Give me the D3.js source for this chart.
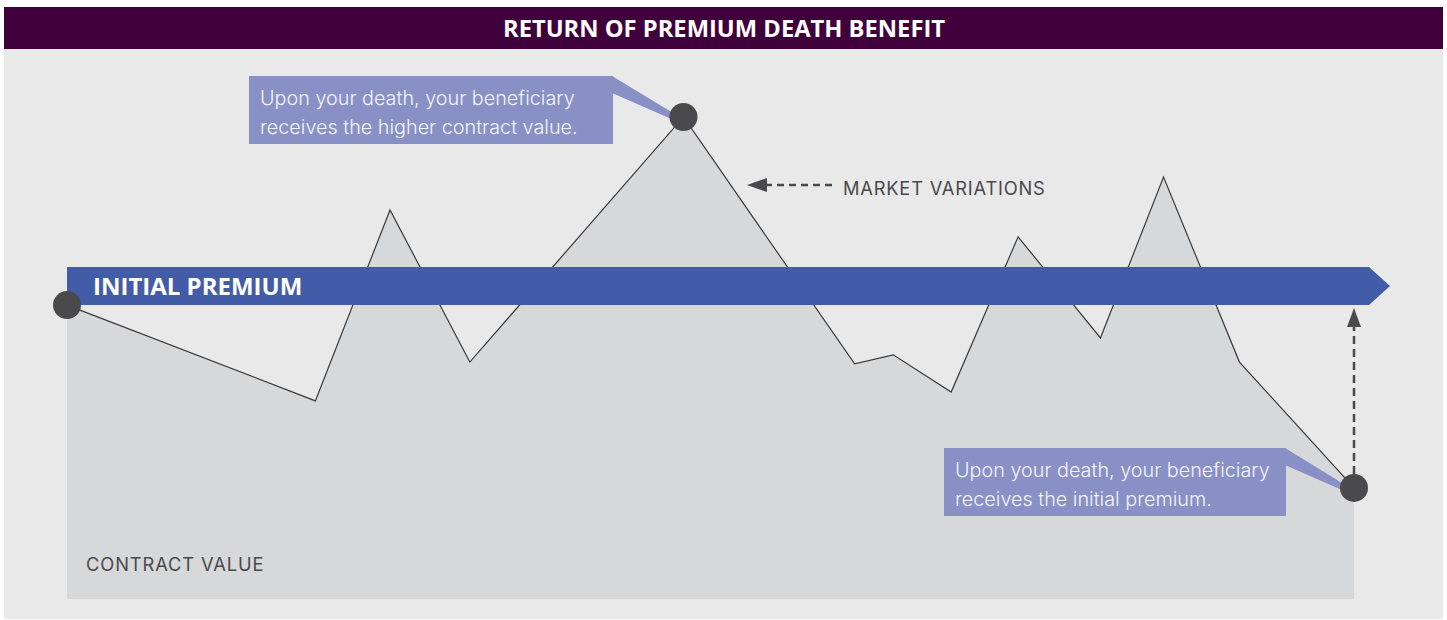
<!DOCTYPE html>
<html>
<head>
<meta charset="utf-8">
<script src="https://cdn.jsdelivr.net/npm/d3@7"></script>
<style>
    body { margin: 0; background: #fff; }
    svg { display: block; }
</style>
</head>
<body>
<svg id="chart"></svg>
<script>
const width = 1447;
const height = 620;

// contract value over time (time 0..100, value where initial premium = 100)
const periods = [0, 19.3, 25.1, 31.3, 47.9, 61.2, 64.2, 68.7, 73.9, 80.3, 85.2, 91.1, 100];
const contractValues = [93.9, 63.3, 124.3, 75.7, 154.0, 75.1, 78.0, 66.1, 115.7, 83.4, 134.8, 75.7, 35.5];
const initialPremium = 100;
const highlightIdx = [0, 4, 12];

const titleText = 'RETURN OF PREMIUM DEATH BENEFIT';
const premiumLabel = 'INITIAL PREMIUM';
const marketLabel = 'MARKET VARIATIONS';
const contractLabel = 'CONTRACT VALUE';
const topNote = ['Upon your death, your beneficiary', 'receives the higher contract value.'];
const bottomNote = ['Upon your death, your beneficiary', 'receives the initial premium.'];

const dark = '#4a4a4c';
const calloutFill = '#8890c6';

const svg = d3.select('#chart').attr('width', width).attr('height', height);

// background panel + title bar
svg.append('rect').attr('x', 4).attr('y', 48).attr('width', 1439).attr('height', 571).attr('fill', '#e9e9e9');
svg.append('rect').attr('x', 4).attr('y', 7).attr('width', 1439).attr('height', 42).attr('fill', '#3f003c');
svg.append('text')
    .attr('x', 724).attr('y', 37)
    .attr('text-anchor', 'middle')
    .attr('font-family', 'Open Sans')
    .attr('font-weight', 700)
    .attr('font-size', 23.5)
    .attr('textLength', 442)
    .attr('lengthAdjust', 'spacingAndGlyphs')
    .attr('fill', '#fff')
    .text(titleText);

const x = d3.scaleLinear().domain([0, 100]).range([67, 1354]);
const y = d3.scaleLinear().domain([0, 100]).range([599, 286]);

const pts = periods.map((t, i) => ({ t: t, v: contractValues[i] }));

svg.append('path')
    .datum(pts)
    .attr('fill', '#d7d8da')
    .attr('d', d3.area().x(d => x(d.t)).y0(y(0)).y1(d => y(d.v)));

svg.append('path')
    .datum(pts)
    .attr('fill', 'none')
    .attr('stroke', '#3a3a3c')
    .attr('stroke-width', 1.2)
    .attr('d', d3.line().x(d => x(d.t)).y(d => y(d.v)));

// initial premium arrow bar
const barY = y(initialPremium);
const bx0 = x(0), bx1 = x(100) + 15;
svg.append('path')
    .attr('fill', '#435ca8')
    .attr('d', `M${bx0},${barY - 19}L${bx1},${barY - 19}L${bx1 + 21},${barY}L${bx1},${barY + 19}L${bx0},${barY + 19}Z`);
svg.append('text')
    .attr('x', bx0 + 26).attr('y', barY + 9)
    .attr('font-family', 'Open Sans')
    .attr('font-weight', 700)
    .attr('font-size', 24)
    .attr('fill', '#fff')
    .text(premiumLabel);

// market variations dashed arrow
const mvY = 185;
svg.append('line')
    .attr('x1', 765).attr('x2', 837).attr('y1', mvY).attr('y2', mvY)
    .attr('stroke', dark).attr('stroke-width', 2.5).attr('stroke-dasharray', '7,5');
svg.append('path').attr('fill', dark)
    .attr('d', `M747,${mvY}L767,${mvY - 7}L767,${mvY + 7}Z`);
svg.append('text')
    .attr('x', 843).attr('y', 195)
    .attr('font-family', 'Inter').attr('font-weight', 400)
    .attr('font-size', 18.3).attr('letter-spacing', 0.8)
    .attr('fill', dark)
    .text(marketLabel);

// vertical dashed arrow at the end
const last = pts[pts.length - 1];
const ex = x(last.t);
svg.append('line')
    .attr('x1', ex).attr('x2', ex).attr('y1', y(last.v) - 14).attr('y2', barY + 40)
    .attr('stroke', dark).attr('stroke-width', 2.5).attr('stroke-dasharray', '8,5');
svg.append('path').attr('fill', dark)
    .attr('d', `M${ex},${barY + 22}L${ex + 7},${barY + 41}L${ex - 7},${barY + 41}Z`);

// callouts
function callout(bx, by, bw, bh, lines, target) {
    const g = svg.append('g');
    g.append('path').attr('fill', calloutFill)
        .attr('d', `M${bx + bw - 1},${by}L${target[0] - 12},${target[1] - 5}L${target[0] - 12},${target[1] + 2}L${bx + bw - 1},${by + 17}Z`);
    g.append('rect').attr('x', bx).attr('y', by).attr('width', bw).attr('height', bh).attr('fill', calloutFill);
    g.selectAll('text').data(lines).join('text')
        .attr('x', bx + 11)
        .attr('y', (d, i) => by + 29 + i * 29)
        .attr('font-family', 'Inter').attr('font-weight', 300)
        .attr('font-size', 19.8).attr('fill', '#f4f4fa')
        .text(d => d);
}
const peak = pts[highlightIdx[1]];
callout(249, 76, 364, 68, topNote, [x(peak.t), y(peak.v)]);
callout(944, 448, 342, 68, bottomNote, [x(last.t), y(last.v)]);

svg.append('text')
    .attr('x', 86).attr('y', 571)
    .attr('font-family', 'Inter').attr('font-weight', 400)
    .attr('font-size', 18.3).attr('letter-spacing', 0.9)
    .attr('fill', dark)
    .text(contractLabel);

// dots
svg.append('g').selectAll('circle')
    .data(highlightIdx.map(i => pts[i]))
    .join('circle')
    .attr('cx', d => x(d.t)).attr('cy', d => y(d.v))
    .attr('r', 14)
    .attr('fill', dark);
</script>
</body>
</html>
